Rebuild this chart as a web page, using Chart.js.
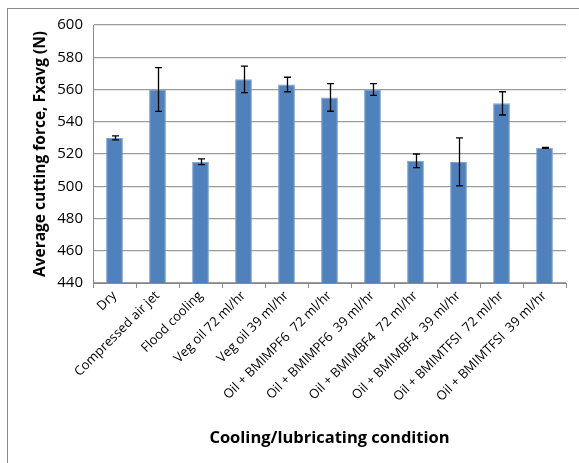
<!DOCTYPE html>
<html>
<head>
<meta charset="utf-8">
<script src="https://cdn.jsdelivr.net/npm/chart.js@4/dist/chart.umd.min.js"></script>
<style>
  html, body { margin: 0; padding: 0; background: #fff; }
  #wrap { position: relative; width: 579px; height: 463px; }
  #frame { position: absolute; left: 7px; top: 8px; right: 0; bottom: 0;
           border-top: 1px solid #8a8a8a; border-left: 1px solid #8a8a8a; pointer-events: none; }
</style>
</head>
<body>
<div id="wrap">
  <canvas id="forceChart" width="579" height="463"></canvas>
  <div id="frame"></div>
</div>
<script>
'use strict';

// ===== Data =====
const conditions = [
  'Dry', 'Compressed air jet', 'Flood cooling', 'Veg oil 72 ml/hr', 'Veg oil 39 ml/hr',
  'Oil + BMIMPF6  72 ml/hr', 'Oil + BMIMPF6  39 ml/hr', 'Oil + BMIMBF4  72 ml/hr',
  'Oil + BMIMBF4  39 ml/hr', 'Oil + BMIMTFSI  72 ml/hr', 'Oil + BMIMTFSI  39 ml/hr'
];
const forceAvg = [530, 560, 515.2, 566.3, 563.1, 555.1, 560, 515.8, 515.1, 551.4, 523.8];
const forceErr = [1.2, 13.6, 1.8, 8.2, 4.5, 8.6, 3.7, 4.2, 14.9, 7.2, 0.3];
const yTicks   = [440, 460, 480, 500, 520, 540, 560, 580, 600];

const barBlue  = '#4f81bd';
const gridGrey = '#9c9c9c';
const font     = "'Open Sans', 'Liberation Sans', sans-serif";

Chart.defaults.font.family = font;
Chart.defaults.color = '#000';

// ===== Error bars drawn from the y scale =====
const errorBars = {
  id: 'errorBars',
  afterDatasetsDraw(chart) {
    const { ctx, scales: { y } } = chart;
    const meta = chart.getDatasetMeta(0);
    ctx.save();
    ctx.strokeStyle = '#000';
    ctx.lineWidth = 1.3;
    meta.data.forEach((bar, i) => {
      const top = y.getPixelForValue(forceAvg[i] + forceErr[i]);
      const bot = y.getPixelForValue(forceAvg[i] - forceErr[i]);
      const x = Math.round(bar.x) + 0.5;
      ctx.beginPath();
      ctx.moveTo(x, top); ctx.lineTo(x, bot);
      ctx.moveTo(x - 3.5, top); ctx.lineTo(x + 3.5, top);
      ctx.moveTo(x - 3.5, bot); ctx.lineTo(x + 3.5, bot);
      ctx.stroke();
    });
    ctx.restore();
  }
};

new Chart(document.getElementById('forceChart'), {
  type: 'bar',
  data: {
    labels: conditions,
    datasets: [{
      data: forceAvg,
      backgroundColor: barBlue,
      borderColor: '#7ea1cf',
      borderWidth: 1,
      categoryPercentage: 1,
      barPercentage: 0.39
    }]
  },
  options: {
    responsive: false,
    animation: false,
    layout: { padding: { top: 25, right: 13, left: 0, bottom: 0 } },
    plugins: { legend: { display: false }, tooltip: { enabled: false } },
    scales: {
      x: {
        grid: { offset: true, drawOnChartArea: false, drawTicks: true, tickLength: 5, color: '#888' },
        border: { color: '#888' },
        ticks: { minRotation: 45, maxRotation: 45, autoSkip: false, font: { size: 13 }, padding: 0 },
        title: { display: true, text: 'Cooling/lubricating condition', font: { size: 16.5, weight: 'bold' }, padding: { top: 0, bottom: 15 } },
        afterFit(scale) { scale.height = 180; }
      },
      y: {
        min: 440, max: 600,
        afterBuildTicks(scale) { scale.ticks = yTicks.map(v => ({ value: v })); },
        grid: { color: gridGrey, lineWidth: 1.2, drawTicks: false },
        border: { color: '#888' },
        ticks: { font: { size: 15 }, padding: 10 },
        title: { display: true, text: 'Average cutting force, Fxavg (N)', font: { size: 15.5, weight: 'bold' }, padding: { top: 31, bottom: 0 } },
        afterFit(scale) { scale.width = 93; }
      }
    }
  },
  plugins: [errorBars]
});
</script>
</body>
</html>
